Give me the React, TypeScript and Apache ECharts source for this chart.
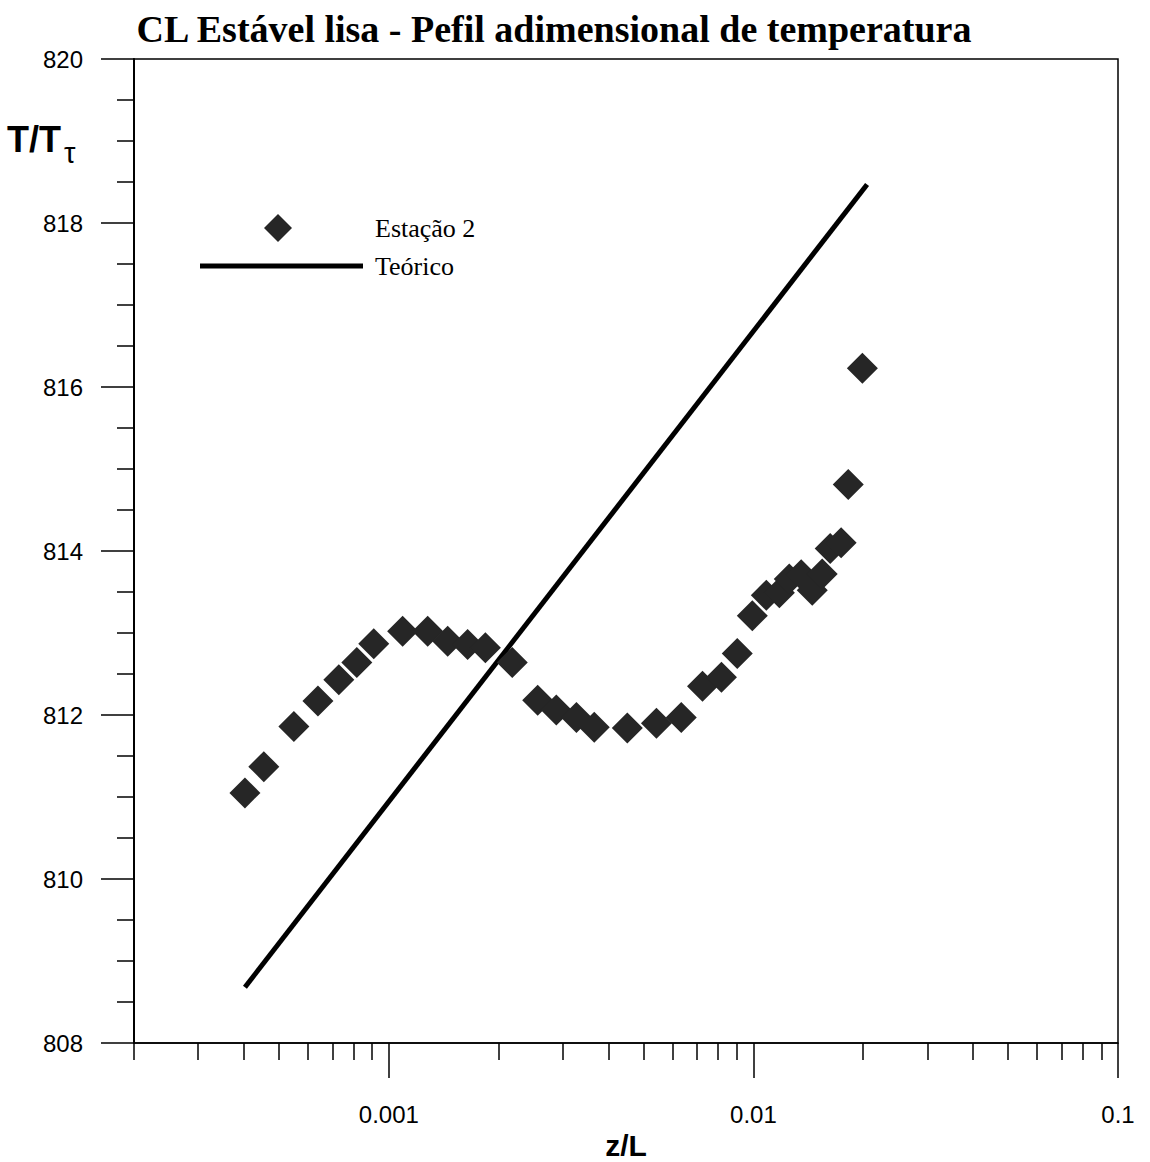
import React, { useEffect, useRef } from "react";
import * as echarts from "echarts";

// ---- data ----
const estacaoZ = [
  0.000403, 0.000454, 0.000549, 0.000639, 0.000729, 0.000817, 0.000909, 0.001091,
  0.001278, 0.00145, 0.001645, 0.00184, 0.00218, 0.00256, 0.00288, 0.00327, 0.00366,
  0.00451, 0.00542, 0.00634, 0.00725, 0.00817, 0.00903, 0.00993, 0.01085, 0.01178,
  0.01254, 0.01352, 0.0145, 0.01544, 0.01624, 0.0174, 0.0182, 0.0199,
];
const estacaoT = [
  811.05, 811.37, 811.86, 812.17, 812.43, 812.64, 812.87, 813.02, 813.02, 812.9,
  812.86, 812.82, 812.64, 812.18, 812.06, 811.97, 811.85, 811.84, 811.9, 811.97,
  812.35, 812.46, 812.75, 813.21, 813.46, 813.49, 813.66, 813.71, 813.52, 813.72,
  814.03, 814.1, 814.81, 816.23,
];
const teoricoZ = [0.000403, 0.0205];
const teoricoT = [808.68, 818.47];

const majorTicksX = [0.001, 0.01, 0.1];
const minorTicksX = [
  0.0002, 0.0003, 0.0004, 0.0005, 0.0006, 0.0007, 0.0008, 0.0009,
  0.002, 0.003, 0.004, 0.005, 0.006, 0.007, 0.008, 0.009,
  0.02, 0.03, 0.04, 0.05, 0.06, 0.07, 0.08, 0.09,
];

const SANS = "Liberation Sans, Arial, sans-serif";
const SERIF = "Liberation Serif, Times New Roman, serif";

export default function App() {
  const ref = useRef<HTMLDivElement>(null);
  useEffect(() => {
    if (!ref.current) return;
    const chart = echarts.init(ref.current, null, { renderer: "svg" });
    const scatterData = estacaoZ.map((z, i) => [z, estacaoT[i]]);
    const lineData = teoricoZ.map((z, i) => [z, teoricoT[i]]);
    const fmt = (v: number) => String(Number(Number(v).toPrecision(3)));
    chart.setOption({
      animation: false,
      backgroundColor: "#ffffff",
      title: {
        text: "CL Estável lisa - Pefil adimensional de temperatura",
        left: 549,
        textAlign: "center",
        top: 5,
        textStyle: { fontFamily: SERIF, fontWeight: "bold", fontSize: 38, color: "#000" },
      },
      grid: {
        left: 134,
        right: 32,
        top: 59,
        bottom: 119,
        show: true,
        borderColor: "#000",
        borderWidth: 1.5,
        containLabel: false,
        outerBoundsMode: "none",
      },
      legend: [
        {
          data: [{ name: "Estação 2", icon: "diamond" }],
          left: 264,
          top: 214,
          padding: 0,
          itemWidth: 28,
          itemHeight: 28,
          selectedMode: false,
          textStyle: { fontFamily: SERIF, fontSize: 26, color: "#000", padding: [0, 0, 0, 78] },
        },
        {
          data: [{ name: "Teórico", icon: "rect" }],
          left: 200,
          top: 253,
          padding: 0,
          itemWidth: 163,
          itemHeight: 5,
          selectedMode: false,
          textStyle: { fontFamily: SERIF, fontSize: 26, color: "#000", padding: [0, 0, 0, 7] },
        },
      ],
      xAxis: [
        {
          type: "log",
          logBase: 10,
          min: 0.0002,
          max: 0.1,
          position: "bottom",
          name: "z/L",
          nameLocation: "middle",
          nameGap: 80,
          nameTextStyle: { fontFamily: SANS, fontWeight: "bold", fontSize: 30, lineHeight: 30, color: "#000" },
          axisLine: { show: true, lineStyle: { color: "#000", width: 1.5 } },
          axisTick: { show: true, customValues: majorTicksX, length: 35, lineStyle: { color: "#000", width: 1.5 } },
          axisLabel: {
            show: true,
            customValues: majorTicksX,
            margin: 59,
            fontFamily: SANS,
            fontSize: 24,
            color: "#000",
            formatter: (v: number) => fmt(v),
          },
          splitLine: { show: false },
          minorTick: { show: false },
        },
        {
          type: "log",
          logBase: 10,
          min: 0.0002,
          max: 0.1,
          position: "bottom",
          axisLine: { show: false },
          axisTick: { show: true, customValues: minorTicksX, length: 17, lineStyle: { color: "#000", width: 1.5 } },
          axisLabel: { show: false },
          splitLine: { show: false },
        },
      ],
      yAxis: {
        type: "value",
        min: 808,
        max: 820,
        interval: 2,
        axisLine: { show: true, lineStyle: { color: "#000", width: 2 } },
        axisTick: { show: true, length: 33, lineStyle: { color: "#000", width: 1.5 } },
        minorTick: { show: true, splitNumber: 4, length: 17, lineStyle: { color: "#000", width: 1.5 } },
        axisLabel: { margin: 51, fontFamily: SANS, fontSize: 24, color: "#000" },
        splitLine: { show: false },
        minorSplitLine: { show: false },
      },
      graphic: [
        {
          type: "text",
          left: 7,
          top: 121,
          style: { text: "T/T", fontFamily: SANS, fontWeight: "bold", fontSize: 36, fill: "#000" },
        },
        {
          type: "text",
          left: 64,
          top: 138,
          style: { text: "τ", fontFamily: SANS, fontSize: 29, fill: "#000" },
        },
      ],
      series: [
        {
          name: "Estação 2",
          type: "scatter",
          xAxisIndex: 0,
          symbol: "diamond",
          symbolSize: 31,
          itemStyle: { color: "#262626", opacity: 1 },
          data: scatterData,
          z: 3,
        },
        {
          name: "Teórico",
          type: "line",
          xAxisIndex: 0,
          showSymbol: false,
          symbol: "none",
          lineStyle: { color: "#000", width: 5 },
          itemStyle: { color: "#000" },
          data: lineData,
          z: 2,
        },
      ],
    });
    return () => chart.dispose();
  }, []);
  return (
    <div
      ref={ref}
      style={{ position: "absolute", left: 0, top: 0, width: 1150, height: 1162, background: "#fff" }}
    />
  );
}
